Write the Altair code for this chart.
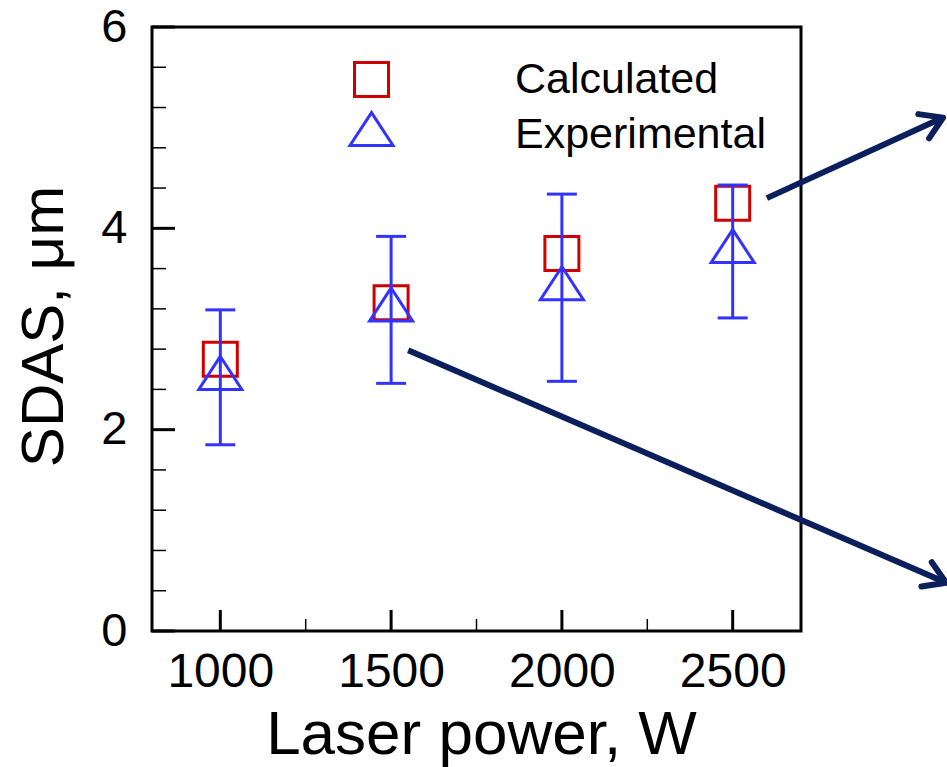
import altair as alt
import pandas as pd

# ---------------- data ----------------
power = [1000, 1500, 2000, 2500]
calculated = [2.70, 3.26, 3.75, 4.25]
experimental = [2.51, 3.19, 3.40, 3.77]
exp_low = [1.85, 2.46, 2.48, 3.11]
exp_high = [3.19, 3.92, 4.34, 4.43]
series_names = ["Calculated", "Experimental"]

x_major = [1000, 1500, 2000, 2500]
x_minor = [1250, 1750, 2250]
y_major = [0, 2, 4, 6]
y_minor = [0.4, 0.8, 1.2, 1.6, 2.4, 2.8, 3.2, 3.6, 4.4, 4.8, 5.2, 5.6]

# annotation arrows (data coordinates)
arrow_x0 = [2600, 1550]
arrow_y0 = [4.30, 2.79]
arrow_x1 = [3116, 3125]
arrow_y1 = [5.10, 0.48]
arrow_angle = [336, 23]

# ---------------- styles ----------------
RED = "#D00000"
BLUE = "#3333FF"
NAVY = "#0B1F5C"
FONT = "Liberation Sans"
TRI = "M0,-1.29L-1.265,0.65L1.265,0.65Z"
CHEVRON = "M-0.85,-0.53L0,0L-0.85,0.53"
W, H = 649, 604

df_calc = pd.DataFrame({"power": power, "value": calculated, "series": series_names[0]})
df_exp = pd.DataFrame({"power": power, "value": experimental, "lo": exp_low, "hi": exp_high,
                       "series": series_names[1]})
df_xmaj = pd.DataFrame({"power": x_major})
df_xmin = pd.DataFrame({"power": x_minor})
df_ymaj = pd.DataFrame({"value": y_major})
df_ymin = pd.DataFrame({"value": y_minor})
df_arrow = pd.DataFrame({"x0": arrow_x0, "y0": arrow_y0, "x1": arrow_x1, "y1": arrow_y1,
                         "ang": arrow_angle})

xs = alt.Scale(domain=[800, 2700], nice=False, zero=False)
ys = alt.Scale(domain=[0, 6], nice=False, zero=False)

x_axis = alt.Axis(values=x_major, ticks=False, domain=False, grid=False, format="d",
                  labelFontSize=48, labelFont=FONT, labelColor="black", labelPadding=17,
                  title="Laser power, W", titleFontSize=62, titleFont=FONT,
                  titleFontWeight="normal", titleColor="black",
                  titleY=122, titleX=329, titleBaseline="alphabetic")
y_axis = alt.Axis(values=y_major, ticks=False, domain=False, grid=False, format="d",
                  labelFontSize=47, labelFont=FONT, labelColor="black", labelPadding=25,
                  title="SDAS, μm", titleFontSize=60, titleFont=FONT,
                  titleFontWeight="normal", titleColor="black", titleAngle=270,
                  titleX=-90, titleY=299, titleBaseline="alphabetic", titleAlign="center")


def X(field):
    return alt.X(field, type="quantitative", scale=xs, axis=x_axis, title="Laser power, W")


def Y(field):
    return alt.Y(field, type="quantitative", scale=ys, axis=y_axis, title="SDAS, μm")


leg = alt.Legend(title=None, orient="none", legendX=198, legendY=31,
                 labelFontSize=43, labelFont=FONT, labelColor="black", labelOffset=122,
                 labelLimit=600, symbolSize=1156, symbolStrokeWidth=3, rowPadding=3,
                 padding=0)

color_enc = alt.Color("series:N", scale=alt.Scale(domain=series_names, range=[RED, BLUE]), legend=leg)
shape_enc = alt.Shape("series:N", scale=alt.Scale(domain=series_names, range=["square", TRI]), legend=leg)

# ticks (inward)
ytick_major = alt.Chart(df_ymaj).mark_rule(color="black", strokeWidth=3).encode(
    y=Y("value"), x=alt.value(0), x2=alt.value(23))
ytick_minor = alt.Chart(df_ymin).mark_rule(color="black", strokeWidth=1.5).encode(
    y=Y("value"), x=alt.value(0), x2=alt.value(14))
xtick_major = alt.Chart(df_xmaj).mark_rule(color="black", strokeWidth=3).encode(
    x=X("power"), y=alt.value(H), y2=alt.value(H - 21))
xtick_minor = alt.Chart(df_xmin).mark_rule(color="black", strokeWidth=1.5).encode(
    x=X("power"), y=alt.value(H), y2=alt.value(H - 12))

squares = alt.Chart(df_calc).mark_point(size=1156, filled=False, strokeWidth=3, opacity=1).encode(
    x=X("power"), y=Y("value"), color=color_enc, shape=shape_enc)

err = alt.Chart(df_exp).mark_rule(color=BLUE, strokeWidth=3).encode(
    x=X("power"), y=Y("lo"), y2="hi:Q")
cap_lo = alt.Chart(df_exp).mark_tick(color=BLUE, thickness=3, size=30, orient="horizontal", opacity=1).encode(
    x=X("power"), y=Y("lo"))
cap_hi = alt.Chart(df_exp).mark_tick(color=BLUE, thickness=3, size=30, orient="horizontal", opacity=1).encode(
    x=X("power"), y=Y("hi"))

triangles = alt.Chart(df_exp).mark_point(size=1156, filled=False, strokeWidth=3, opacity=1).encode(
    x=X("power"), y=Y("value"), color=color_enc, shape=shape_enc)

arrow_lines = alt.Chart(df_arrow).mark_rule(color=NAVY, strokeWidth=6, clip=False).encode(
    x=X("x0"), y=Y("y0"), x2="x1:Q", y2="y1:Q")
arrow_heads = alt.Chart(df_arrow).mark_point(shape=CHEVRON, size=2500, filled=False, color=NAVY,
                                             strokeWidth=6, opacity=1, clip=False,
                                             strokeCap="round", strokeJoin="round").encode(
    x=X("x1"), y=Y("y1"), angle=alt.Angle("ang:Q", scale=None))

chart = alt.layer(
    ytick_major, ytick_minor, xtick_major, xtick_minor,
    squares, err, cap_lo, cap_hi, triangles, arrow_lines, arrow_heads
).properties(
    width=W, height=H,
    padding={"left": 152, "top": 27, "right": 146, "bottom": 136},
    autosize=alt.AutoSizeParams(type="none"),
    background="white",
).configure(font=FONT).configure_view(stroke="black", strokeWidth=3)

chart.save("out.html", embed_options={"renderer": "svg", "actions": False})
